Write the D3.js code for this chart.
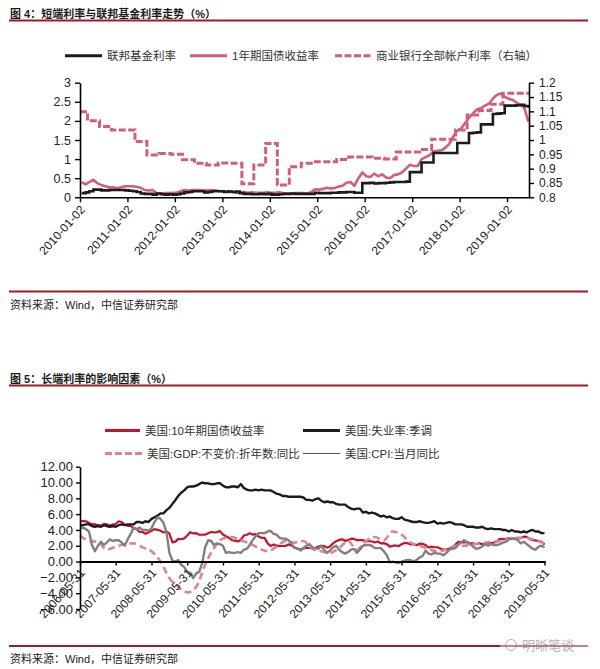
<!DOCTYPE html>
<html><head><meta charset="utf-8">
<script src="https://cdn.jsdelivr.net/npm/d3@7"></script>
<style>
body{margin:0;background:#fff;}
svg text{font-family:"Liberation Sans",Arial,"Noto Sans CJK SC",sans-serif;}
</style></head><body>
<svg id="chart" width="600" height="669"></svg>
<script>
// ---------- Chart 1 data (monthly, 2010-01 .. 2019-06) ----------
const c1FirstMonth = "2010-01-15";
const c1DomainStart = "2010-01-02";
const c1DomainEnd = "2019-06-20";
const fedFunds = [
0.11,0.13,0.16,0.20,0.20,0.18,0.18,0.19,0.19,0.19,0.19,0.18,
0.17,0.16,0.14,0.10,0.09,0.09,0.07,0.10,0.08,0.07,0.08,0.07,
0.08,0.10,0.13,0.14,0.16,0.16,0.16,0.13,0.14,0.16,0.16,0.16,
0.14,0.15,0.14,0.15,0.11,0.09,0.09,0.08,0.08,0.09,0.08,0.09,
0.07,0.07,0.08,0.09,0.09,0.10,0.09,0.09,0.09,0.09,0.09,0.12,
0.11,0.11,0.11,0.12,0.12,0.13,0.13,0.14,0.14,0.12,0.12,0.37,
0.37,0.38,0.36,0.37,0.37,0.38,0.39,0.40,0.40,0.40,0.41,0.66,
0.66,0.66,0.91,0.91,0.91,1.16,1.16,1.16,1.16,1.16,1.16,1.42,
1.42,1.42,1.68,1.69,1.70,1.91,1.91,1.91,2.18,2.19,2.20,2.40,
2.40,2.40,2.41,2.42,2.39,2.38];
const treasury1y = [
0.40,0.34,0.40,0.46,0.37,0.32,0.29,0.26,0.26,0.23,0.26,0.29,
0.29,0.29,0.27,0.25,0.19,0.18,0.19,0.11,0.10,0.11,0.11,0.12,
0.12,0.16,0.19,0.18,0.19,0.19,0.19,0.18,0.18,0.18,0.18,0.16,
0.15,0.16,0.15,0.12,0.12,0.14,0.12,0.13,0.12,0.12,0.12,0.13,
0.12,0.12,0.13,0.11,0.10,0.10,0.11,0.11,0.11,0.10,0.13,0.21,
0.20,0.22,0.25,0.23,0.24,0.28,0.30,0.38,0.40,0.30,0.50,0.65,
0.55,0.53,0.62,0.55,0.60,0.52,0.50,0.58,0.60,0.65,0.75,0.85,
0.82,0.82,1.00,1.05,1.10,1.20,1.22,1.23,1.30,1.40,1.60,1.75,
1.80,1.95,2.08,2.20,2.30,2.33,2.40,2.45,2.58,2.68,2.72,2.63,
2.58,2.55,2.48,2.42,2.35,1.98];
// Commercial bank all-accounts rate (right axis), step changes
const bankDates = ["2010-01-02","2010-03-01","2010-06-01","2010-09-01","2010-12-01",
"2011-03-01","2011-06-01","2011-09-01","2011-12-01","2012-03-01","2012-06-01","2012-09-01","2012-12-01",
"2013-03-01","2013-06-01","2013-09-01","2013-12-01","2014-03-01","2014-06-01","2014-09-01","2014-12-01",
"2015-03-01","2015-06-01","2015-09-01","2015-12-01","2016-03-01","2016-06-01","2016-09-01","2016-12-01",
"2017-03-01","2017-06-01","2017-09-01","2017-12-01","2018-03-01","2018-06-01","2018-09-01","2018-12-01",
"2019-03-01","2019-06-20"];
const bankRate = [1.099,1.067,1.047,1.035,1.035,
0.995,0.948,0.953,0.950,0.931,0.919,0.913,0.920,
0.919,0.847,0.913,0.988,0.843,0.907,0.919,0.924,
0.924,0.932,0.941,0.941,0.936,0.934,0.958,0.958,
0.967,1.003,1.003,1.035,1.087,1.103,1.125,1.163,
1.163,1.163];
const c1XTicks = ["2010-01-02","2011-01-02","2012-01-02","2013-01-02","2014-01-02",
"2015-01-02","2016-01-02","2017-01-02","2018-01-02","2019-01-02"];
const c1LeftTicks = [0,0.5,1,1.5,2,2.5,3];
const c1RightTicks = [0.8,0.85,0.9,0.95,1,1.05,1.1,1.15,1.2];

// ---------- Chart 2 data (monthly month-ends, 2006-05 .. 2019-05) ----------
const c2DomainStart = "2006-05-31";
const c2DomainEnd = "2019-06-05";
const yield10y = [
5.10,5.11,5.09,4.88,4.72,4.73,4.60,4.56,
4.76,4.72,4.56,4.69,4.75,5.10,5.00,4.67,4.52,4.53,4.15,4.10,
3.74,3.74,3.51,3.68,3.88,4.10,4.01,3.89,3.69,3.81,3.53,2.42,
2.52,2.87,2.82,2.93,3.29,3.72,3.56,3.59,3.40,3.39,3.40,3.59,
3.73,3.69,3.73,3.85,3.42,3.20,3.01,2.70,2.65,2.54,2.76,3.29,
3.39,3.58,3.41,3.46,3.17,3.00,3.00,2.30,1.98,2.15,2.01,1.98,
1.97,1.97,2.17,2.05,1.80,1.62,1.53,1.68,1.72,1.75,1.65,1.72,
1.91,1.98,1.96,1.76,1.93,2.30,2.58,2.74,2.81,2.62,2.72,2.90,
2.86,2.71,2.72,2.71,2.56,2.60,2.54,2.42,2.53,2.30,2.33,2.21,
1.88,1.98,2.04,1.94,2.20,2.36,2.32,2.17,2.17,2.07,2.26,2.24,
2.09,1.78,1.89,1.81,1.81,1.64,1.50,1.56,1.63,1.76,2.14,2.49,
2.43,2.42,2.48,2.30,2.30,2.19,2.32,2.21,2.20,2.36,2.35,2.40,
2.58,2.86,2.84,2.87,2.98,2.91,2.89,2.89,3.00,3.15,3.12,2.83,
2.71,2.68,2.57,2.53,2.14];
const unemployment = [
4.6,4.6,4.7,4.7,4.5,4.4,4.5,4.4,
4.6,4.5,4.4,4.5,4.4,4.6,4.7,4.6,4.7,4.7,4.7,5.0,
5.0,4.9,5.1,5.0,5.4,5.6,5.8,6.1,6.1,6.5,6.8,7.3,
7.8,8.3,8.7,9.0,9.4,9.5,9.5,9.6,9.8,10.0,9.9,9.9,
9.8,9.8,9.9,9.9,9.6,9.4,9.4,9.5,9.5,9.4,9.8,9.3,
9.1,9.0,9.0,9.1,9.0,9.1,9.0,9.0,9.0,8.8,8.6,8.5,
8.3,8.3,8.2,8.2,8.2,8.2,8.2,8.1,7.8,7.8,7.7,7.9,
8.0,7.7,7.5,7.6,7.5,7.5,7.3,7.2,7.2,7.2,6.9,6.7,
6.6,6.7,6.7,6.2,6.3,6.1,6.2,6.1,5.9,5.7,5.8,5.6,
5.7,5.5,5.4,5.4,5.6,5.3,5.2,5.1,5.0,5.0,5.1,5.0,
4.9,4.9,5.0,5.1,4.8,4.9,4.8,4.9,5.0,4.9,4.7,4.7,
4.7,4.6,4.4,4.4,4.4,4.3,4.3,4.4,4.2,4.1,4.2,4.1,
4.1,4.1,4.0,4.0,3.8,4.0,3.8,3.8,3.7,3.8,3.7,3.9,
4.0,3.8,3.8,3.6,3.6];
const cpiYoY = [
4.2,4.3,4.1,3.8,2.1,1.3,2.0,2.5,
2.1,2.4,2.8,2.6,2.7,2.7,2.4,2.0,2.8,3.5,4.3,4.1,
4.3,4.0,4.0,3.9,4.2,5.0,5.6,5.4,4.9,3.7,1.1,0.1,
0.0,0.2,-0.4,-0.7,-1.3,-1.4,-2.1,-1.5,-1.3,-0.2,1.8,2.7,
2.6,2.1,2.3,2.2,2.0,1.1,1.2,1.1,1.1,1.2,1.1,1.5,
1.6,2.1,2.7,3.2,3.6,3.6,3.6,3.8,3.9,3.5,3.4,3.0,
2.9,2.9,2.7,2.3,1.7,1.7,1.4,1.7,2.0,2.2,1.8,1.7,
1.6,2.0,1.5,1.1,1.4,1.8,2.0,1.5,1.2,1.0,1.2,1.5,
1.6,1.1,1.5,2.0,2.1,2.1,2.0,1.7,1.7,1.7,1.3,0.8,
-0.1,0.0,-0.1,-0.2,0.0,0.1,0.2,0.2,0.0,0.2,0.5,0.7,
1.4,1.0,0.9,1.1,1.0,1.0,0.8,1.1,1.5,1.6,1.7,2.1,
2.5,2.7,2.4,2.2,1.9,1.6,1.7,1.9,2.2,2.0,2.2,2.1,
2.1,2.2,2.4,2.5,2.8,2.9,2.9,2.7,2.3,2.5,2.2,1.9,
1.6,1.5,1.9,2.0,1.8];
// GDP yoy, quarterly (2006Q2 .. 2019Q2), plotted at mid-quarter month ends
const gdpYoY = [3.3,2.6,2.5,
1.5,1.9,2.2,2.3, 1.8,1.3,0.0,-2.1, -3.2,-3.9,-3.2,-0.4, 1.7,2.9,3.1,2.7,
2.3,1.7,1.3,1.9, 2.6,2.4,2.6,1.6, 1.3,1.1,1.7,2.6, 1.5,2.6,3.1,2.7,
3.8,3.4,2.4,2.0, 1.6,1.3,1.5,2.0, 2.0,2.2,2.3,2.5, 2.6,2.9,3.0,3.0,
2.7,2.3];
const c2XTicks = ["2006-05-31","2007-05-31","2008-05-31","2009-05-31","2010-05-31","2011-05-31",
"2012-05-31","2013-05-31","2014-05-31","2015-05-31","2016-05-31","2017-05-31","2018-05-31","2019-05-31"];
const c2YTicks = [-6,-4,-2,0,2,4,6,8,10,12];

// ---------- colours ----------
const cBlack = "#1c1c1c", cPink = "#d0607a", cRed = "#c4152c", cPink2 = "#dc8398", cGray = "#808080", cRule = "#9c1c26";

const svg = d3.select("#chart");
const parse = d3.timeParse("%Y-%m-%d");

function header(y, txt){
  svg.append("text").attr("x",10).attr("y",y).attr("font-size",11).attr("font-weight","bold")
     .attr("fill","#1a1a1a").text(txt);
  svg.append("line").attr("x1",9).attr("x2",588).attr("y1",y+3).attr("y2",y+3)
     .attr("stroke",cRule).attr("stroke-width",1.8);
}
function source(y){
  svg.append("line").attr("x1",9).attr("x2",588).attr("y1",y).attr("y2",y)
     .attr("stroke",cRule).attr("stroke-width",1.8);
  svg.append("text").attr("x",10).attr("y",y+17).attr("font-size",11).attr("fill","#222")
     .text("资料来源：Wind，中信证券研究部");
}
function legendItem(x, y, color, dash, width, label, len){
  svg.append("line").attr("x1",x).attr("x2",x+len).attr("y1",y).attr("y2",y)
     .attr("stroke",color).attr("stroke-width",width).attr("stroke-dasharray",dash||null);
  svg.append("text").attr("x",x+len+5).attr("y",y).attr("dy","0.36em").attr("font-size",11.5)
     .attr("fill","#333").text(label);
}

// ================= Chart 1 =================
header(17.5, "图 4：短端利率与联邦基金利率走势（%）");
legendItem(65, 55.7, cBlack, null, 3, "联邦基金利率", 37);
legendItem(190, 55.7, cPink, null, 3, "1年期国债收益率", 37);
legendItem(335, 55.7, cPink, "7,2.5", 3, "商业银行全部帐户利率（右轴）", 36);

const x1 = d3.scaleTime().domain([parse(c1DomainStart), parse(c1DomainEnd)]).range([80,529]);
const yL = d3.scaleLinear().domain([0,3]).range([197.3,82.7]);
const yR = d3.scaleLinear().domain([0.8,1.2]).range([197.3,82.7]);
const m0 = parse(c1FirstMonth);
const c1Dates = fedFunds.map((_,i)=>d3.timeMonth.offset(m0,i));
const endDate1 = parse(c1DomainEnd);

const ffData = fedFunds.map((v,i)=>({d:c1Dates[i],v})).concat([{d:endDate1,v:fedFunds[fedFunds.length-1]}]);
const tyData = treasury1y.map((v,i)=>({d:c1Dates[i],v}));
const bkData = bankRate.map((v,i)=>({d:parse(bankDates[i]),v}));

const g1 = svg.append("g");
g1.append("path").datum(bkData).attr("fill","none").attr("stroke",cPink).attr("stroke-width",3)
  .attr("stroke-dasharray","7,2.5")
  .attr("d", d3.line().x(d=>x1(d.d)).y(d=>yR(d.v)).curve(d3.curveStepAfter));
g1.append("path").datum(tyData).attr("fill","none").attr("stroke",cPink).attr("stroke-width",2.6)
  .attr("stroke-linejoin","round")
  .attr("d", d3.line().x(d=>x1(d.d)).y(d=>yL(d.v)));
g1.append("path").datum(ffData).attr("fill","none").attr("stroke",cBlack).attr("stroke-width",2.6)
  .attr("d", d3.line().x(d=>x1(d.d)).y(d=>yL(d.v)).curve(d3.curveStepAfter));

function styleAxis(g, fs){
  g.select(".domain").attr("stroke","#000").attr("stroke-width",1.6);
  g.selectAll(".tick line").attr("stroke","#000").attr("stroke-width",1.4);
  g.selectAll(".tick text").attr("font-size",fs).attr("fill","#222")
   .style("font-family","'Liberation Sans',Arial,sans-serif");
}
const axL = svg.append("g").attr("transform","translate(80,0)")
  .call(d3.axisLeft(yL).tickValues(c1LeftTicks).tickFormat(d3.format("~g")).tickSize(5).tickSizeOuter(0).tickPadding(4));
styleAxis(axL, 12.5);
const axR = svg.append("g").attr("transform","translate(529,0)")
  .call(d3.axisRight(yR).tickValues(c1RightTicks).tickFormat(d3.format("~g")).tickSize(5).tickSizeOuter(0).tickPadding(5));
styleAxis(axR, 12);
const axB1 = svg.append("g").attr("transform","translate(0,197.3)")
  .call(d3.axisBottom(x1).tickValues(c1XTicks.map(parse)).tickFormat(d3.timeFormat("%Y-%m-%d")).tickSize(5).tickSizeOuter(0));
styleAxis(axB1, 12);
axB1.selectAll(".tick text").attr("x",0).attr("y",0).attr("dy","0.35em")
  .attr("transform","translate(2,10) rotate(-48)").style("text-anchor","end");

source(291.5);

// ================= Chart 2 =================
header(382.5, "图 5：长端利率的影响因素（%）");
legendItem(105, 430.4, cRed, null, 3, "美国:10年期国债收益率", 35);
legendItem(303, 430.4, cBlack, null, 3, "美国:失业率:季调", 37);
legendItem(105, 453.5, cPink2, "7,3", 3, "美国:GDP:不变价:折年数:同比", 37);
legendItem(303, 453.5, "#555", null, 1, "美国:CPI:当月同比", 37);

const x2 = d3.scaleTime().domain([parse(c2DomainStart), parse(c2DomainEnd)]).range([80,545]);
const y2 = d3.scaleLinear().domain([-6,12]).range([609,466.7]);
const mEnd = i => d3.timeDay.offset(d3.timeMonth.offset(new Date(2006,5,1), i), -1);
const c2Dates = yield10y.map((_,i)=>mEnd(i));
const gdpDates = gdpYoY.map((_,i)=>mEnd(3*i));

const line2 = d3.line().x(d=>x2(d.d)).y(d=>y2(d.v));
const g2 = svg.append("g");
g2.append("path").datum(yield10y.map((v,i)=>({d:c2Dates[i],v}))).attr("fill","none")
  .attr("stroke",cRed).attr("stroke-width",2.2).attr("stroke-linejoin","round").attr("d",line2);
g2.append("path").datum(unemployment.map((v,i)=>({d:c2Dates[i],v}))).attr("fill","none")
  .attr("stroke",cBlack).attr("stroke-width",2.4).attr("stroke-linejoin","round").attr("d",line2);
g2.append("path").datum(gdpYoY.map((v,i)=>({d:gdpDates[i],v}))).attr("fill","none")
  .attr("stroke",cPink2).attr("stroke-width",2.6).attr("stroke-dasharray","7,4")
  .attr("d",line2.curve(d3.curveMonotoneX));
g2.append("path").datum(cpiYoY.map((v,i)=>({d:c2Dates[i],v}))).attr("fill","none")
  .attr("stroke",cGray).attr("stroke-width",2.4).attr("stroke-linejoin","round")
  .attr("d",d3.line().x(d=>x2(d.d)).y(d=>y2(d.v)));

const axL2 = svg.append("g").attr("transform","translate(80,0)")
  .call(d3.axisLeft(y2).tickValues(c2YTicks).tickFormat(d3.format(".2f")).tickSize(4).tickSizeOuter(0).tickPadding(3));
styleAxis(axL2, 13);
const axB2 = svg.append("g").attr("transform",`translate(0,${y2(0)})`)
  .call(d3.axisBottom(x2).tickValues(c2XTicks.map(parse)).tickFormat(d3.timeFormat("%Y-%m-%d")).tickSize(4).tickSizeOuter(0));
styleAxis(axB2, 12);
axB2.select(".domain").attr("stroke-width",2);
axB2.selectAll(".tick text").attr("x",0).attr("y",0).attr("dy","0.35em")
  .attr("transform","translate(2,9) rotate(-48)").style("text-anchor","end");

source(646);

// watermark
const wm = svg.append("g").attr("opacity",0.75);
wm.append("rect").attr("x",500).attr("y",637).attr("width",88).attr("height",18).attr("fill","#fff").attr("opacity",0.6);
wm.append("circle").attr("cx",511).attr("cy",645).attr("r",5.5).attr("fill","none").attr("stroke","#999").attr("stroke-width",1);
wm.append("text").attr("x",522).attr("y",645).attr("dy","0.36em").attr("font-size",13).attr("fill","#999").text("明晰笔谈");
</script></body></html>
